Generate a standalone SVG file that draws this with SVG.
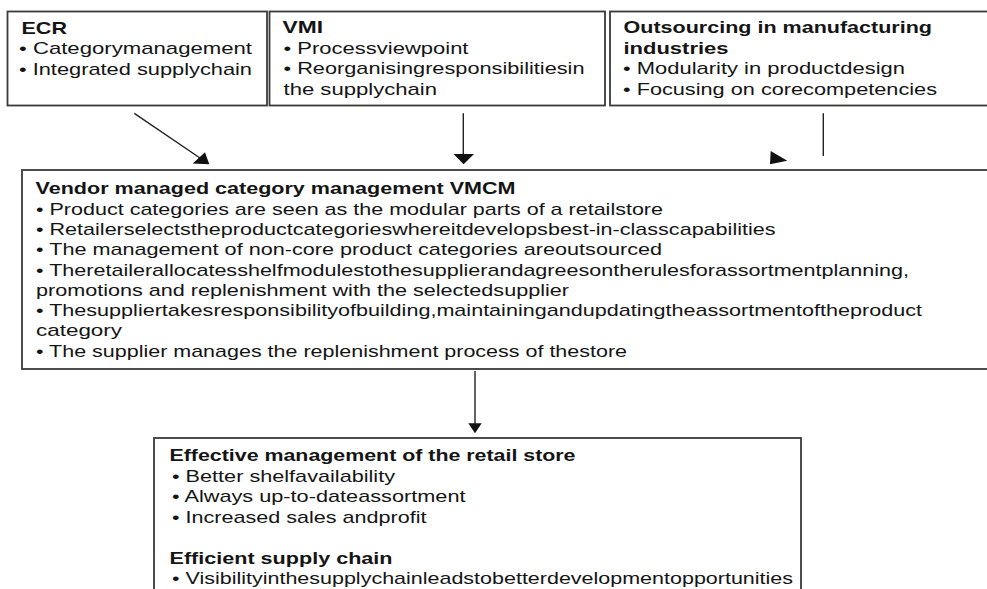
<svg xmlns="http://www.w3.org/2000/svg" width="987" height="589" viewBox="0 0 987 589">
  <style>
    .box { fill: #ffffff; stroke: #3a3a3a; stroke-width: 1.8; }
    .t { font-family: "Liberation Sans", Arial, sans-serif; font-size: 17px; fill: #141414; }
    .h { font-weight: bold; }
    .edge { stroke: #222222; stroke-width: 1.4; fill: none; }
    .head { fill: #111111; stroke: none; }
  </style>
  <rect width="987" height="589" fill="#ffffff"/>

  <!-- Driver: ECR -->
  <g id="ecr">
    <rect class="box" x="7.5" y="11.5" width="259.5" height="94"/>
    <text class="t h" x="21.5" y="34.3" textLength="45.5" lengthAdjust="spacingAndGlyphs">ECR</text>
    <text class="t" x="19" y="54.3" textLength="233" lengthAdjust="spacingAndGlyphs">• Categorymanagement</text>
    <text class="t" x="19" y="75" textLength="233" lengthAdjust="spacingAndGlyphs">• Integrated supplychain</text>
  </g>

  <!-- Driver: VMI -->
  <g id="vmi">
    <rect class="box" x="269.5" y="11.5" width="335.5" height="94"/>
    <text class="t h" x="282.5" y="33.3" textLength="40.5" lengthAdjust="spacingAndGlyphs">VMI</text>
    <text class="t" x="283.5" y="54" textLength="185" lengthAdjust="spacingAndGlyphs">• Processviewpoint</text>
    <text class="t" x="283.5" y="74.3" textLength="301" lengthAdjust="spacingAndGlyphs">• Reorganisingresponsibilitiesin</text>
    <text class="t" x="283.5" y="95" textLength="153.5" lengthAdjust="spacingAndGlyphs">the supplychain</text>
  </g>

  <!-- Driver: outsourcing -->
  <g id="outsourcing">
    <rect class="box" x="610" y="11.5" width="390" height="94"/>
    <text class="t h" x="623.5" y="33.3" textLength="308.5" lengthAdjust="spacingAndGlyphs">Outsourcing in manufacturing</text>
    <text class="t h" x="623.5" y="53.5" textLength="105" lengthAdjust="spacingAndGlyphs">industries</text>
    <text class="t" x="623" y="74" textLength="282" lengthAdjust="spacingAndGlyphs">• Modularity in productdesign</text>
    <text class="t" x="623" y="95" textLength="314" lengthAdjust="spacingAndGlyphs">• Focusing on corecompetencies</text>
  </g>

  <!-- Concept: VMCM -->
  <g id="vmcm">
    <rect class="box" x="22" y="170" width="980" height="199"/>
    <text class="t h" x="35.5" y="194.3" textLength="480" lengthAdjust="spacingAndGlyphs">Vendor managed category management VMCM</text>
    <text class="t" x="36" y="214.5" textLength="627" lengthAdjust="spacingAndGlyphs">• Product categories are seen as the modular parts of a retailstore</text>
    <text class="t" x="36" y="235" textLength="739.5" lengthAdjust="spacingAndGlyphs">• Retailerselectstheproductcategorieswhereitdevelopsbest-in-classcapabilities</text>
    <text class="t" x="36" y="255.3" textLength="626" lengthAdjust="spacingAndGlyphs">• The management of non-core product categories areoutsourced</text>
    <text class="t" x="36" y="275.5" textLength="873" lengthAdjust="spacingAndGlyphs">• Theretailerallocatesshelfmodulestothesupplierandagreesontherulesforassortmentplanning,</text>
    <text class="t" x="36" y="295.7" textLength="533" lengthAdjust="spacingAndGlyphs">promotions and replenishment with the selectedsupplier</text>
    <text class="t" x="36" y="316" textLength="886" lengthAdjust="spacingAndGlyphs">• Thesuppliertakesresponsibilityofbuilding,maintainingandupdatingtheassortmentoftheproduct</text>
    <text class="t" x="36" y="336.3" textLength="86" lengthAdjust="spacingAndGlyphs">category</text>
    <text class="t" x="36" y="356.7" textLength="591" lengthAdjust="spacingAndGlyphs">• The supplier manages the replenishment process of thestore</text>
  </g>

  <!-- Outcomes -->
  <g id="outcomes">
    <rect class="box" x="154" y="438" width="647" height="170"/>
    <text class="t h" x="169.5" y="460.7" textLength="406" lengthAdjust="spacingAndGlyphs">Effective management of the retail store</text>
    <text class="t" x="172" y="481.5" textLength="223" lengthAdjust="spacingAndGlyphs">• Better shelfavailability</text>
    <text class="t" x="172" y="501.7" textLength="293.5" lengthAdjust="spacingAndGlyphs">• Always up-to-dateassortment</text>
    <text class="t" x="172" y="522.5" textLength="254.5" lengthAdjust="spacingAndGlyphs">• Increased sales andprofit</text>
    <text class="t h" x="169.5" y="563.8" textLength="223" lengthAdjust="spacingAndGlyphs">Efficient supply chain</text>
    <text class="t" x="172" y="584.3" textLength="621" lengthAdjust="spacingAndGlyphs">• Visibilityinthesupplychainleadstobetterdevelopmentopportunities</text>
  </g>

  <!-- Connectors -->
  <g id="connectors">
    <line class="edge" x1="134.3" y1="113.3" x2="200" y2="158"/>
    <polygon class="head" points="192.7,163.5 209.3,164.2 205,152.3"/>

    <line class="edge" x1="463.3" y1="113.3" x2="463.3" y2="155"/>
    <polygon class="head" points="453.5,154 474,154 463.6,164.3"/>

    <line class="edge" x1="823.3" y1="113.3" x2="823.3" y2="156"/>
    <polygon class="head" points="770.7,151 787.3,160.7 770,164.3"/>

    <line class="edge" x1="475" y1="371" x2="475" y2="424"/>
    <polygon class="head" points="468.3,423.3 481.7,423.3 475,433.3"/>
  </g>
</svg>
